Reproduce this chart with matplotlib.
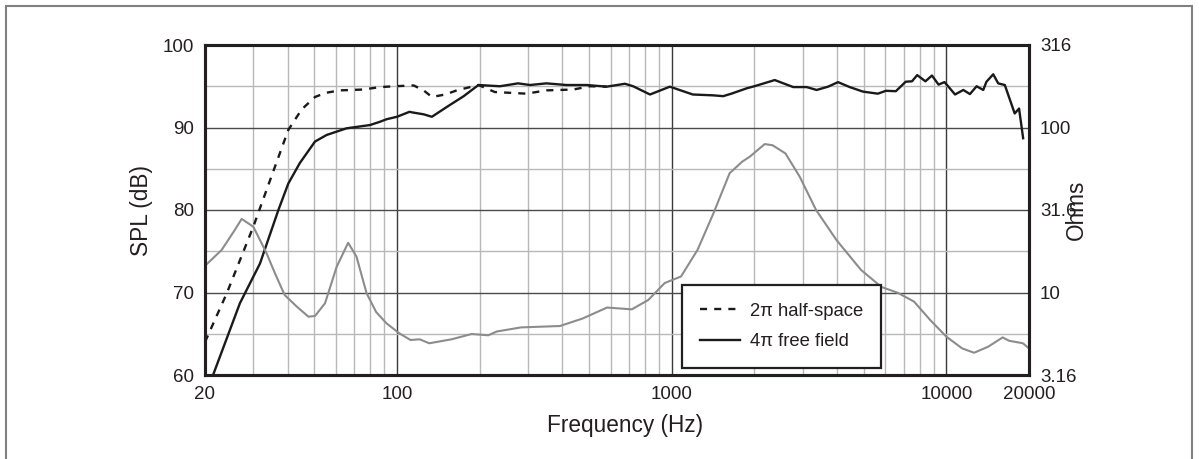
import matplotlib
matplotlib.use("Agg")
import matplotlib.pyplot as plt
from matplotlib.lines import Line2D
from matplotlib.patches import Rectangle
from matplotlib.ticker import FixedLocator, NullFormatter

plt.rcParams['font.family'] = ['Liberation Sans', 'DejaVu Sans']

# ---------------- data ----------------
half_space_freq = [20, 24, 30, 34.5, 40.2, 45, 50.3, 55, 62, 75, 87, 98, 115, 125, 134,
                   150, 165, 198, 227, 296, 350, 438, 504, 580]
half_space_db = [64.0, 69.9, 78.0, 83.6, 89.7, 92.2, 93.7, 94.2, 94.5, 94.6, 94.9, 95.0,
                 95.1, 94.5, 93.7, 94.0, 94.5, 95.15, 94.3, 94.1, 94.5, 94.6, 95.0, 94.95]

free_field_freq = [21.4, 26.8, 31.7, 37, 40.2, 44.3, 50.3, 55.5, 65.5, 79.8, 86.8,
                   91.6, 100, 111, 115, 125, 134, 152, 175, 198, 237, 276, 305, 350,
                   414, 490, 580, 676, 724, 834, 985, 1194, 1412, 1540, 1650, 1876,
                   2000, 2373, 2772, 3100, 3372, 3712, 4034, 4449, 4972, 5630, 6032,
                   6550, 7116, 7500, 7833, 8392, 8866, 9370, 9848, 10180, 10760,
                   11530, 12190, 12890, 13630, 14000, 14820, 15450, 16330, 17740,
                   18400, 19040]
free_field_db = [60.0, 68.7, 73.5, 80.0, 83.2, 85.7, 88.3, 89.1, 89.9, 90.3, 90.7,
                 91.0, 91.3, 91.9, 91.8, 91.6, 91.3, 92.5, 93.8, 95.15, 95.0, 95.35,
                 95.15, 95.35, 95.15, 95.15, 94.95, 95.3, 95.0, 94.0, 94.95, 94.0,
                 93.9, 93.8, 94.1, 94.75, 95.0, 95.75, 94.9, 94.9, 94.55, 94.95, 95.5,
                 94.9, 94.35, 94.1, 94.45, 94.4, 95.55, 95.6, 96.35, 95.6, 96.3, 95.2,
                 95.5, 94.95, 94.0, 94.55, 94.05, 95.0, 94.55, 95.55, 96.45, 95.35,
                 95.15, 91.7, 92.3, 88.7]

impedance_freq = [20, 23, 25.5, 27.2, 30, 33.5, 36, 39, 43.2, 47.6, 50.3, 54.7, 60.3,
                  66.4, 71.2, 77.5, 84, 91.6, 102, 112, 121, 131, 158, 187, 215, 231,
                  283, 392, 474, 582, 716, 822, 943, 1082, 1242, 1420, 1626, 1806,
                  1930, 2182, 2330, 2596, 2926, 3356, 3980, 4890, 5800, 6660, 7630,
                  8740, 10000, 11420, 12620, 14200, 16040, 16900, 19000, 20000]
impedance_ohm = [14.5, 18.1, 23.5, 27.9, 25.0, 17.3, 13.0, 9.65, 8.2, 7.13, 7.2, 8.6,
                 14.3, 20.0, 16.5, 9.9, 7.6, 6.5, 5.65, 5.15, 5.2, 4.92, 5.2, 5.6, 5.5,
                 5.8, 6.14, 6.26, 6.95, 8.1, 7.9, 9.0, 11.4, 12.5, 18.1, 30.2, 52.8,
                 62, 66.7, 79.3, 78, 69.6, 50.3, 31.6, 20.8, 13.7, 10.8, 9.95, 8.8,
                 6.8, 5.4, 4.58, 4.31, 4.69, 5.34, 5.1, 4.92, 4.58]

x_ticks = [20, 100, 1000, 10000, 20000]
x_tick_labels = ['20', '100', '1000', '10000', '20000']
x_minor = [30, 40, 50, 60, 70, 80, 90, 200, 300, 400, 500, 600, 700, 800, 900,
           2000, 3000, 4000, 5000, 6000, 7000, 8000, 9000]
spl_ticks = [60, 70, 80, 90, 100]
spl_minor = [65, 75, 85, 95]
ohm_ticks = [3.16, 10, 31.6, 100, 316]
ohm_tick_labels = ['3.16', '10', '31.6', '100', '316']

legend_labels = ['2\u03c0 half-space', '4\u03c0 free field']

# ---------------- figure ----------------
W, H = 1199, 459
fig = plt.figure(figsize=(W / 100, H / 100), dpi=100)
ax = fig.add_axes([205 / W, 1 - 375 / H, 824 / W, 330 / H])

txt = '#231f20'
ax.set_xscale('log')
ax.set_xlim(20, 20000)
ax.set_ylim(60, 100)
ax.xaxis.set_major_locator(FixedLocator(x_ticks))
ax.set_xticklabels(x_tick_labels)
ax.xaxis.set_minor_locator(FixedLocator(x_minor))
ax.xaxis.set_minor_formatter(NullFormatter())
ax.yaxis.set_major_locator(FixedLocator(spl_ticks))
ax.yaxis.set_minor_locator(FixedLocator(spl_minor))
ax.tick_params(which='both', length=0, labelsize=13.5, colors=txt)
ax.tick_params(axis='x', pad=8)
ax.tick_params(axis='y', pad=8)

ax.set_axisbelow(True)
ax.grid(which='major', axis='x', color='#3a3a3a', lw=1.0)
ax.grid(which='minor', axis='x', color='#b8b8b8', lw=1.0)
ax.grid(which='major', axis='y', color='#4a4a4a', lw=1.0)
ax.grid(which='minor', axis='y', color='#b8b8b8', lw=1.0)

ax.plot(half_space_freq, half_space_db, color='#1a1a1a', lw=1.7,
        linestyle=(0, (3.0, 3.0)))
ax.plot(free_field_freq, free_field_db, color='#1a1a1a', lw=1.7)

ax.set_xlabel('Frequency (Hz)', fontsize=16.3, color=txt)
ax.xaxis.set_label_coords((625 - 205) / 824, -0.118)
ax.set_ylabel('SPL (dB)', fontsize=16.3, color=txt)
ax.yaxis.set_label_coords((153 - 205) / 824, 0.5)

ax2 = ax.twinx()
ax2.set_yscale('log')
ax2.set_ylim(3.16, 316)
ax2.yaxis.set_major_locator(FixedLocator(ohm_ticks))
ax2.set_yticklabels(ohm_tick_labels)
ax2.yaxis.set_minor_locator(FixedLocator([]))
ax2.tick_params(which='both', length=0, labelsize=13.5, colors=txt, pad=8)
ax2.plot(impedance_freq, impedance_ohm, color='#8c8c8c', lw=1.5)
ax2.set_ylabel('Ohms', fontsize=16.3, color=txt)
ax2.yaxis.set_label_coords((1065 - 205) / 824, 0.5)

for a in (ax, ax2):
    for s in a.spines.values():
        s.set_linewidth(2.2)
        s.set_color(txt)

handles = [Line2D([], [], color='#1a1a1a', lw=1.7, linestyle=(0, (3.0, 3.0))),
           Line2D([], [], color='#1a1a1a', lw=1.7)]
leg = ax2.legend(handles, legend_labels, loc='lower left',
                 bbox_to_anchor=((682 - 205) / 824, (375 - 368) / 330),
                 borderaxespad=0, fontsize=13.3, handlelength=2.2,
                 handletextpad=0.55, borderpad=0.95, labelspacing=0.75,
                 fancybox=False, framealpha=1, edgecolor=txt)
leg.get_frame().set_linewidth(1.6)
for t in leg.get_texts():
    t.set_color(txt)

fig.patches.append(Rectangle((5.5 / W, -0.05), (1192 - 5.5) / W, 1 - 6 / H + 0.05,
                             transform=fig.transFigure, fill=False,
                             edgecolor='#808080', lw=1.5, clip_on=False))

fig.savefig('out.png', dpi=100)
